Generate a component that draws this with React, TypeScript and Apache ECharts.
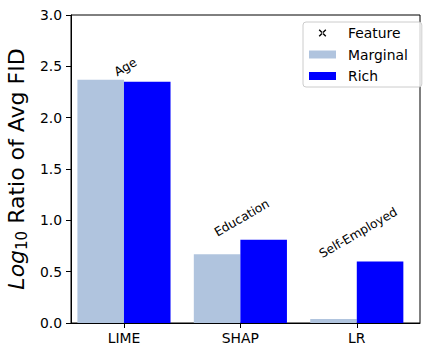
import React, { useEffect, useRef } from "react";
import * as echarts from "echarts";

const categories = ["LIME", "SHAP", "LR"];
const marginal = [2.37, 0.67, 0.04];
const rich = [2.35, 0.81, 0.6];
const features = ["Age", "Education", "Self-Employed"];
const yMin = 0;
const yMax = 3;
const yInterval = 0.5;
const xMin = -0.455;
const xMax = 2.543;

const FONT = "DejaVu Sans";

const X_ICON =
  "path://M0 0L0.01 0L0 0.01Z M27 8L26.99 8L27 7.99Z " +
  "M9.705 1.195L16.305 7.795L17.295 6.805L10.695 0.205Z " +
  "M17.295 1.195L10.695 7.795L9.705 6.805L16.305 0.205Z";

let measureCtx: CanvasRenderingContext2D | null = null;
function textWidth(t: string, size: number): number {
  if (!measureCtx) {
    const c = document.createElement("canvas");
    measureCtx = c.getContext("2d");
  }
  if (!measureCtx) return t.length * size * 0.6;
  measureCtx.font = `${size}px "${FONT}"`;
  return measureCtx.measureText(t).width;
}

export default function App() {
  const ref = useRef<HTMLDivElement>(null);
  useEffect(() => {
    if (!ref.current) return;
    const chart = echarts.init(ref.current, null, { renderer: "svg" });
    const annoSize = 12.3;
    const catIdx = categories.map((_, i) => i);
    chart.setOption({
      animation: false,
      textStyle: { fontFamily: FONT },
      grid: {
        left: 71,
        right: 10,
        top: 15,
        bottom: 34,
        containLabel: false,
        outerBoundsMode: "none",
        show: true,
        borderColor: "#000",
        borderWidth: 1,
        backgroundColor: "transparent",
      },
      legend: {
        orient: "vertical",
        left: 303,
        top: 22,
        padding: [4, 14, 4, 6],
        itemGap: 7.5,
        itemWidth: 27,
        itemHeight: 8,
        borderColor: "#cccccc",
        borderWidth: 1,
        borderRadius: 3,
        backgroundColor: "rgba(255,255,255,0.8)",
        textStyle: {
          fontFamily: FONT,
          fontSize: 13.9,
          color: "#000",
          lineHeight: 14,
          padding: [0, 0, 0, 7],
        },
        data: [
          { name: "Feature", icon: X_ICON, itemStyle: { color: "#000" } },
          { name: "Marginal", icon: "rect" },
          { name: "Rich", icon: "rect" },
        ],
      },
      xAxis: {
        type: "value",
        min: xMin,
        max: xMax,
        axisLine: { show: true, onZero: false, lineStyle: { color: "#000", width: 1 } },
        axisTick: { show: true, length: 5, customValues: catIdx, lineStyle: { color: "#000" } },
        axisLabel: {
          color: "#000",
          fontSize: 13.9,
          fontFamily: FONT,
          margin: 8,
          customValues: catIdx,
          formatter: (v: number) => categories[Math.round(v)] ?? "",
        },
        splitLine: { show: false },
      },
      yAxis: {
        type: "value",
        min: yMin,
        max: yMax,
        interval: yInterval,
        axisLine: { show: true, onZero: false, lineStyle: { color: "#000", width: 1 } },
        axisTick: { show: true, length: 5, lineStyle: { color: "#000" } },
        axisLabel: {
          color: "#000",
          fontSize: 13.9,
          fontFamily: FONT,
          margin: 9,
          formatter: (v: number) => v.toFixed(1),
        },
        splitLine: { show: false },
        name: "{i|Log}{s|10} Ratio of Avg FID",
        nameLocation: "middle",
        nameRotate: 90,
        nameGap: 38,
        nameTextStyle: {
          color: "#000",
          fontSize: 22,
          fontFamily: FONT,
          lineHeight: 26,
          rich: {
            i: { fontStyle: "italic", fontSize: 22, fontFamily: FONT, color: "#000", lineHeight: 26 },
            s: {
              fontSize: 15,
              fontFamily: FONT,
              color: "#000",
              lineHeight: 26,
              verticalAlign: "bottom",
              padding: [8, 0, 0, 0],
            },
          },
        },
      },
      series: [
        {
          name: "Marginal",
          type: "bar",
          data: marginal.map((v, i) => [i, v]),
          barGap: "0%",
          barCategoryGap: "20%",
          itemStyle: { color: "#b0c4de" },
        },
        {
          name: "Rich",
          type: "bar",
          data: rich.map((v, i) => [i, v]),
          barGap: "0%",
          barCategoryGap: "20%",
          itemStyle: { color: "#0000ff" },
        },
        {
          name: "Feature",
          type: "custom",
          coordinateSystem: "cartesian2d",
          itemStyle: { color: "#000" },
          encode: { x: 0, y: 1 },
          clip: false,
          z: 5,
          data: categories.map((_, i) => [i, Math.max(marginal[i], rich[i])]),
          renderItem: (params: any, api: any) => {
            const idx = params.dataIndex;
            const text = features[idx];
            const pt = api.coord([api.value(0), api.value(1)]);
            const w = textWidth(text, annoSize);
            const H = w * 0.5 + annoSize * 0.9;
            const cx = pt[0] + 1.5;
            const cy = pt[1] - 1 - H / 2;
            return {
              type: "text",
              x: cx,
              y: cy,
              rotation: Math.PI / 6,
              style: {
                text,
                x: 0,
                y: 0,
                align: "center",
                verticalAlign: "middle",
                fontSize: annoSize,
                fontFamily: FONT,
                fill: "#000",
              },
            };
          },
        },
      ],
    });
    return () => chart.dispose();
  }, []);
  return (
    <div
      ref={ref}
      style={{ position: "fixed", left: 0, top: 0, width: 430, height: 357, background: "#fff" }}
    />
  );
}
